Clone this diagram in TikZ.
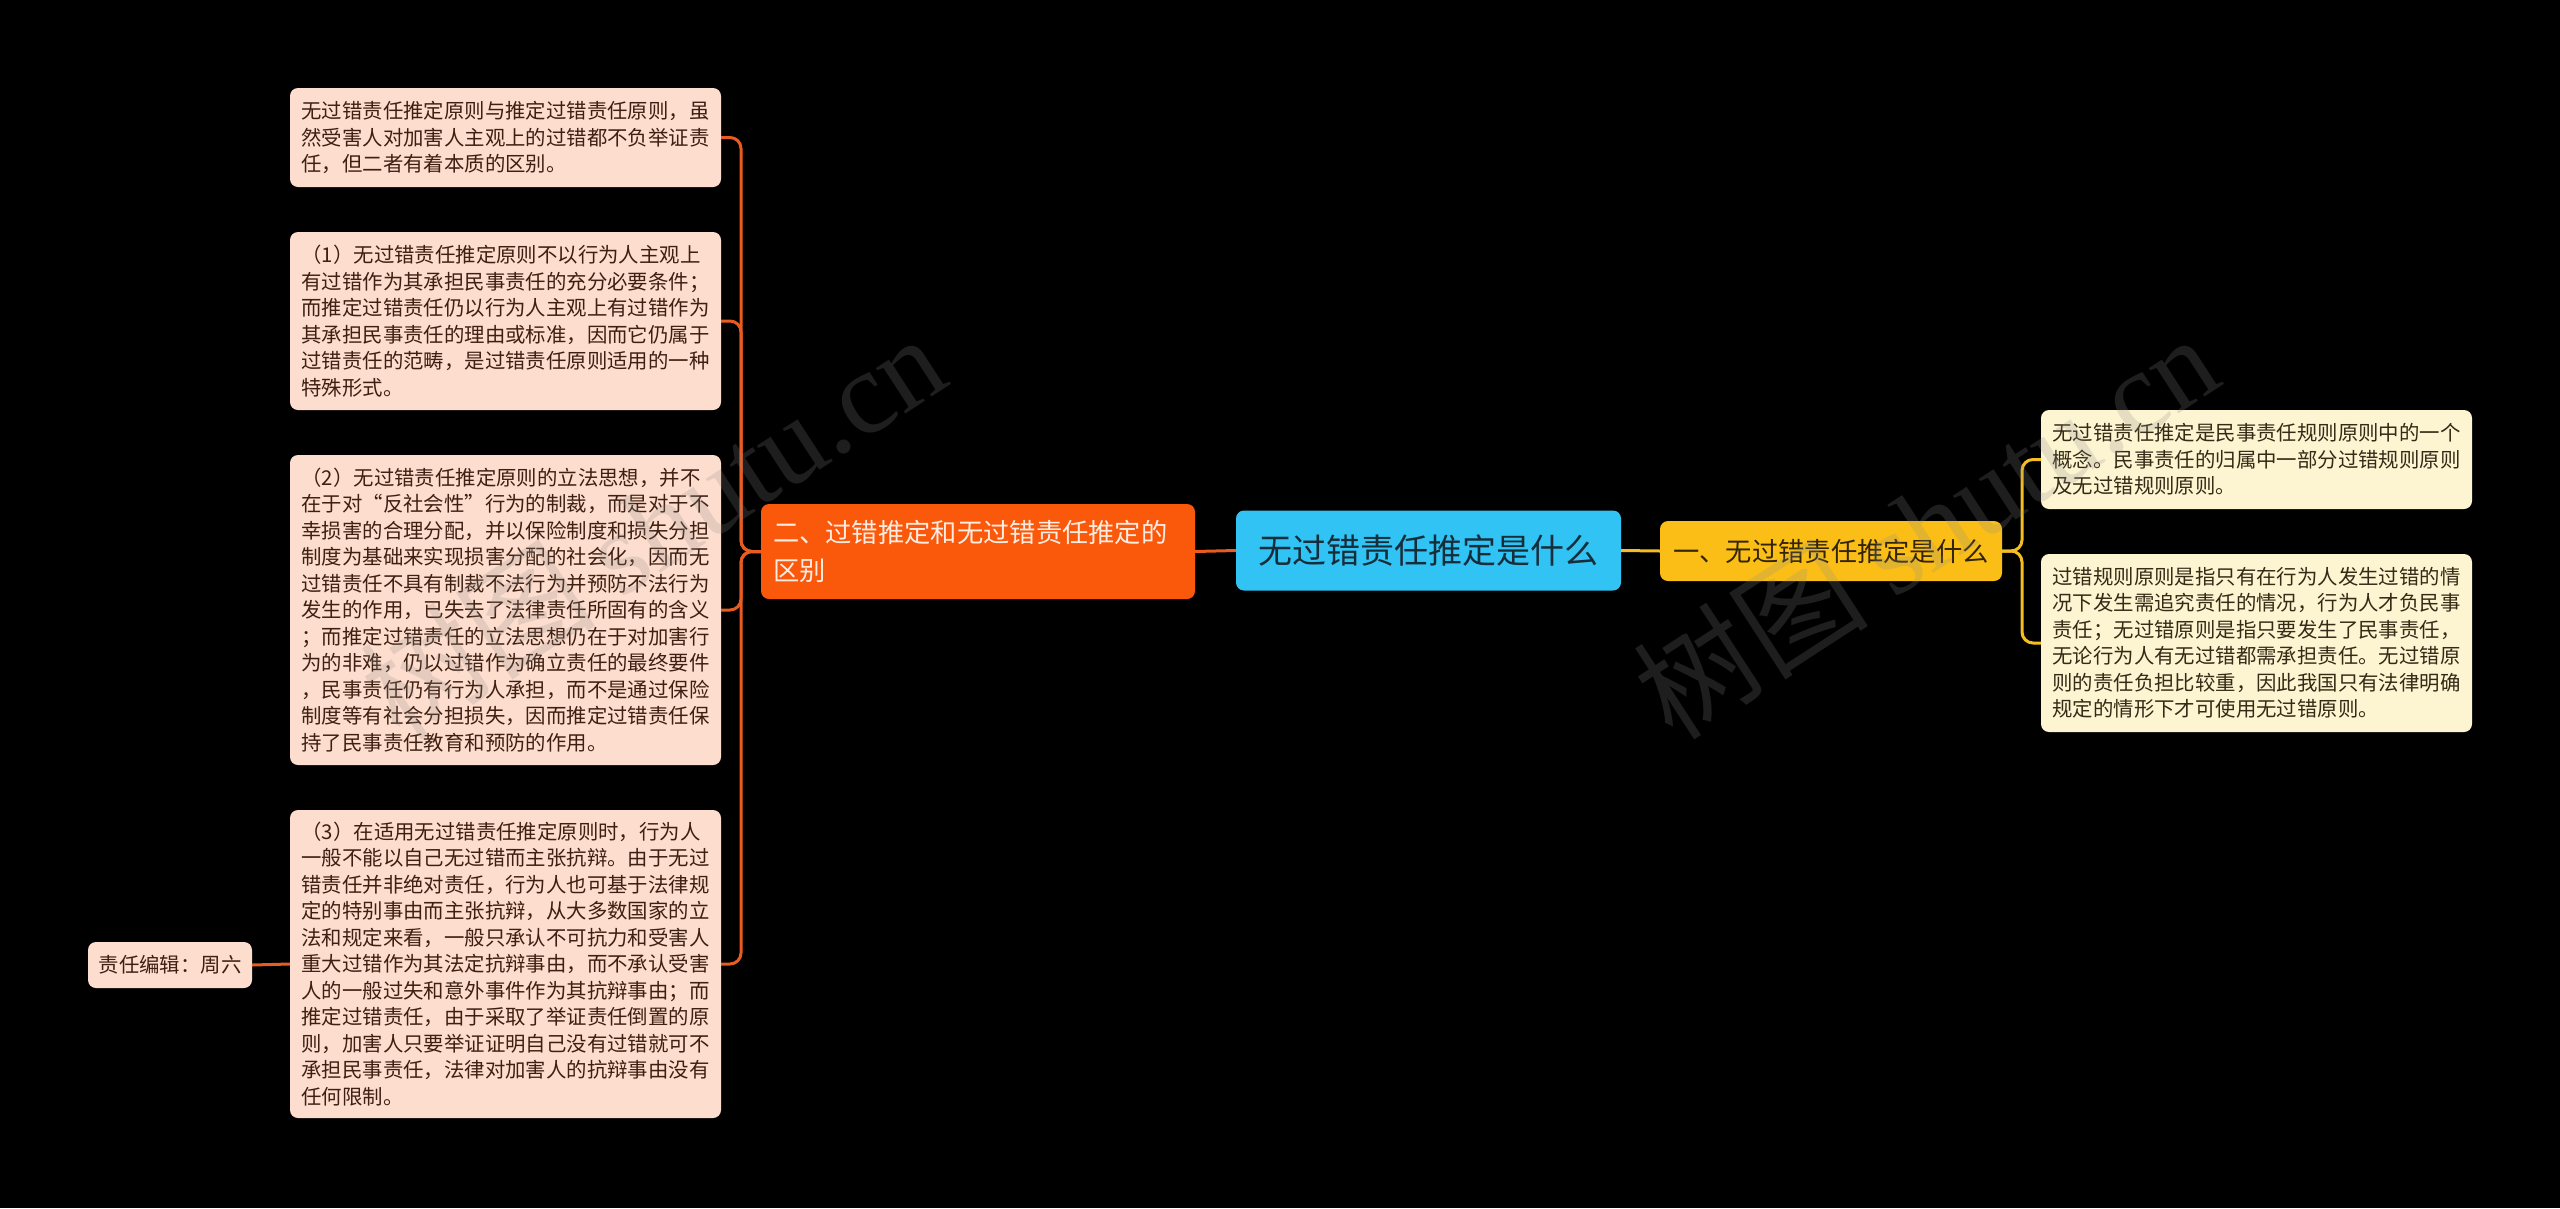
\documentclass[tikz,border=0pt]{standalone}
\usepackage{fontspec}
\setmainfont{Noto Sans CJK SC}
\newfontfamily\wmlatin{Liberation Serif}
\definecolor{bg}{RGB}{0,0,0}
\definecolor{cblue}{RGB}{48,195,243}
\definecolor{cbluetxt}{RGB}{22,45,58}
\definecolor{corange}{RGB}{250,88,10}
\definecolor{corangetxt}{RGB}{255,236,225}
\definecolor{cpeach}{RGB}{253,221,205}
\definecolor{cpeachtxt}{RGB}{62,32,18}
\definecolor{oline}{RGB}{232,92,32}
\definecolor{cyellow}{RGB}{250,190,22}
\definecolor{cyellowtxt}{RGB}{50,36,5}
\definecolor{ccream}{RGB}{253,244,210}
\definecolor{ccreamtxt}{RGB}{52,42,22}
\definecolor{yline}{RGB}{244,190,35}
\definecolor{wmgray}{RGB}{140,140,140}
\tikzset{
  leafbox/.style={rounded corners=8pt, fill=cpeach, text=cpeachtxt, align=left,
    text width=408pt, inner xsep=11.5pt, inner ysep=0pt, minimum width=431pt,
    font=\fontsize{20.4}{26.5}\selectfont},
  rleafbox/.style={leafbox, fill=ccream, text=ccreamtxt},
  orangeline/.style={draw=oline, line width=3pt, rounded corners=11pt},
  yellowline/.style={draw=yline, line width=3pt, rounded corners=11pt},
  wm/.style={text=wmgray, opacity=0.22, font=\fontsize{118}{118}\selectfont, rotate=33}
}
\begin{document}
\begin{tikzpicture}[x=1pt,y=-1pt]
\fill[bg] (0,0) rectangle (2560,1208);
\useasboundingbox (0,0) rectangle (2560,1208);

% central
\node[rounded corners=8pt, fill=cblue, text=cbluetxt, minimum width=385pt, minimum height=80pt,
  font=\fontsize{34}{40}\selectfont] (central) at (1428.5,550.5) {无过错责任推定是什么};

% left main branch
\node[rounded corners=8pt, fill=corange, text=corangetxt, align=left, text width=410pt,
  inner xsep=12pt, minimum height=95pt, font=\fontsize{26.3}{38}\selectfont] (orange) at (978,551.5)
  {二、过错推定和无过错责任推定的\\区别};

% right main branch
\node[rounded corners=8pt, fill=cyellow, text=cyellowtxt, minimum width=342pt, minimum height=60pt,
  font=\fontsize{26.3}{32}\selectfont] (yellow) at (1831,551) {一、无过错责任推定是什么};

% left leaves
\node[leafbox, minimum height=99pt] (L1) at (505.5,137.5)
 {无过错责任推定原则与推定过错责任原则，虽\\然受害人对加害人主观上的过错都不负举证责\\任，但二者有着本质的区别。};
\node[leafbox, minimum height=178pt] (L2) at (505.5,321)
 {（1）无过错责任推定原则不以行为人主观上\\有过错作为其承担民事责任的充分必要条件；\\而推定过错责任仍以行为人主观上有过错作为\\其承担民事责任的理由或标准，因而它仍属于\\过错责任的范畴，是过错责任原则适用的一种\\特殊形式。};
\node[leafbox, minimum height=310pt] (L3) at (505.5,610)
 {（2）无过错责任推定原则的立法思想，并不\\在于对“反社会性”行为的制裁，而是对于不\\幸损害的合理分配，并以保险制度和损失分担\\制度为基础来实现损害分配的社会化，因而无\\过错责任不具有制裁不法行为并预防不法行为\\发生的作用，已失去了法律责任所固有的含义\\；而推定过错责任的立法思想仍在于对加害行\\为的非难，仍以过错作为确立责任的最终要件\\，民事责任仍有行为人承担，而不是通过保险\\制度等有社会分担损失，因而推定过错责任保\\持了民事责任教育和预防的作用。};
\node[leafbox, minimum height=308pt] (L4) at (505.5,964)
 {（3）在适用无过错责任推定原则时，行为人\\一般不能以自己无过错而主张抗辩。由于无过\\错责任并非绝对责任，行为人也可基于法律规\\定的特别事由而主张抗辩，从大多数国家的立\\法和规定来看，一般只承认不可抗力和受害人\\重大过错作为其法定抗辩事由，而不承认受害\\人的一般过失和意外事件作为其抗辩事由；而\\推定过错责任，由于采取了举证责任倒置的原\\则，加害人只要举证证明自己没有过错就可不\\承担民事责任，法律对加害人的抗辩事由没有\\任何限制。};
\node[rounded corners=8pt, fill=cpeach, text=cpeachtxt, minimum width=164pt, minimum height=46pt,
  inner xsep=6pt, font=\fontsize{20.4}{26.5}\selectfont] (editor) at (170,965) {责任编辑：周六};

% right leaves
\node[rleafbox, minimum height=99pt] (R1) at (2256.5,459.5)
 {无过错责任推定是民事责任规则原则中的一个\\概念。民事责任的归属中一部分过错规则原则\\及无过错规则原则。};
\node[rleafbox, minimum height=178pt] (R2) at (2256.5,643)
 {过错规则原则是指只有在行为人发生过错的情\\况下发生需追究责任的情况，行为人才负民事\\责任；无过错原则是指只要发生了民事责任，\\无论行为人有无过错都需承担责任。无过错原\\则的责任负担比较重，因此我国只有法律明确\\规定的情形下才可使用无过错原则。};

% connectors left
\coordinate (ls) at (741,551.5);
\draw[orangeline] (central.west) -- (orange.east);
\draw[orangeline] (orange.west) -- (ls) |- (L1.east);
\draw[orangeline] (orange.west) -- (ls) |- (L2.east);
\draw[orangeline] (orange.west) -- (ls) |- (L3.east);
\draw[orangeline] (orange.west) -- (ls) |- (L4.east);
\draw[orangeline] (L4.west) -- (editor.east);

% connectors right
\coordinate (rs) at (2022,551);
\draw[yellowline] (central.east) -- (yellow.west);
\draw[yellowline] (yellow.east) -- (rs) |- (R1.west);
\draw[yellowline] (yellow.east) -- (rs) |- (R2.west);

% watermarks
\node[wm] (wm1) at (652,525) {树图 {\wmlatin shutu.cn}};
\node[wm] (wm2) at (1925,525) {树图 {\wmlatin shutu.cn}};
\end{tikzpicture}
\end{document}
